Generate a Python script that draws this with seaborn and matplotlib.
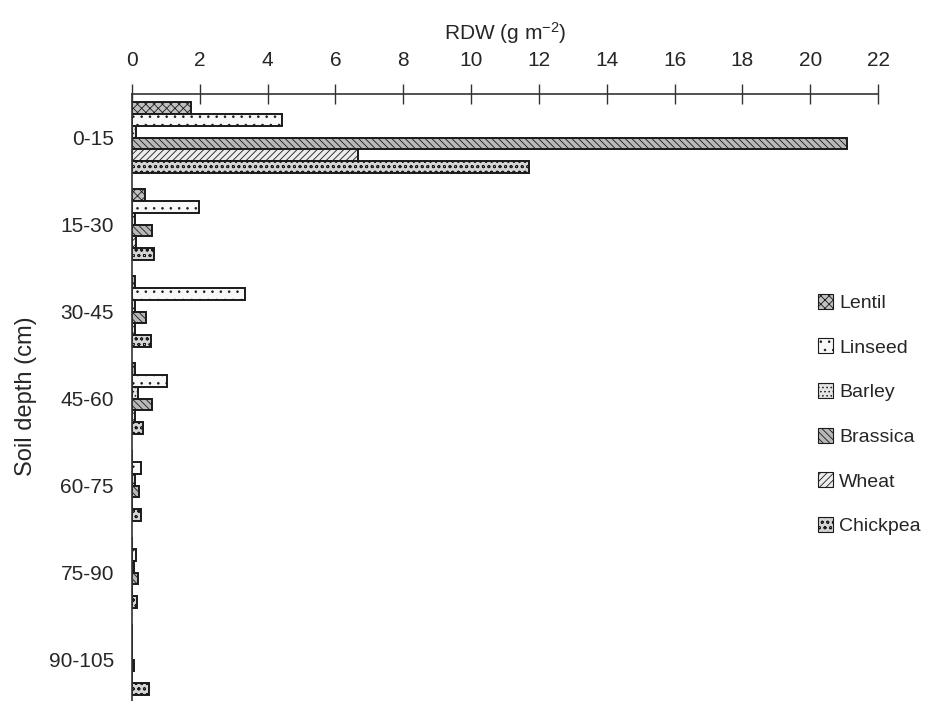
import matplotlib
matplotlib.use("Agg")
import matplotlib.pyplot as plt
import seaborn as sns
import pandas as pd
from matplotlib.patches import Patch

depths = ['0-15', '15-30', '30-45', '45-60', '60-75', '75-90', '90-105']
crops = ['Lentil', 'Linseed', 'Barley', 'Brassica', 'Wheat', 'Chickpea']
lentil = [1.74, 0.39, 0.10, 0.09, 0.0, 0.0, 0.0]
linseed = [4.41, 1.97, 3.32, 1.02, 0.27, 0.12, 0.0]
barley = [0.11, 0.08, 0.10, 0.18, 0.10, 0.05, 0.0]
brassica = [21.09, 0.58, 0.42, 0.58, 0.20, 0.18, 0.07]
wheat = [6.67, 0.13, 0.08, 0.08, 0.0, 0.0, 0.0]
chickpea = [11.72, 0.64, 0.55, 0.31, 0.27, 0.16, 0.49]
x_ticks = [0, 2, 4, 6, 8, 10, 12, 14, 16, 18, 20, 22]

series = [lentil, linseed, barley, brassica, wheat, chickpea]
rows = []
for crop, vals in zip(crops, series):
    for d, v in zip(depths, vals):
        rows.append({'depth': d, 'crop': crop, 'rdw': v})
df = pd.DataFrame(rows)

sns.set_style("white")
plt.rcParams['font.family'] = ['Liberation Sans', 'DejaVu Sans']
plt.rcParams['hatch.linewidth'] = 0.6
plt.rcParams['mathtext.fontset'] = 'custom'
plt.rcParams['mathtext.rm'] = 'Liberation Sans'
plt.rcParams['mathtext.default'] = 'regular'

styles = {
    'Lentil':   dict(fc='#c0c0c0', hatch='xxxx'),
    'Linseed':  dict(fc='#f8f8f8', hatch='..'),
    'Barley':   dict(fc='#e4e4e4', hatch='....'),
    'Brassica': dict(fc='#b8b8b8', hatch='\\\\\\\\\\'),
    'Wheat':    dict(fc='#ececec', hatch='/////'),
    'Chickpea': dict(fc='#d4d4d4', hatch='ooo'),
}

fig = plt.figure(figsize=(9.34, 7.01), dpi=100)
ax = fig.add_axes([132 / 934, (701 - 703) / 701, (878 - 132) / 934, (703 - 94) / 701])

sns.barplot(data=df, y='depth', x='rdw', hue='crop', order=depths, hue_order=crops,
            orient='h', width=0.81, ax=ax, legend=False, errorbar=None)

for crop, cont in zip(crops, ax.containers):
    st = styles[crop]
    for bar in cont:
        bar.set_facecolor(st['fc'])
        bar.set_edgecolor('#1a1a1a')
        bar.set_hatch(st['hatch'])
        bar.set_linewidth(1.4)

ax.set_xlim(0, 22)
ax.set_ylim(len(depths) - 0.5, -0.5)
ax.xaxis.tick_top()
ax.xaxis.set_label_position('top')
ax.set_xticks(x_ticks)
ax.set_xticklabels([str(t) for t in x_ticks], fontsize=15)
ax.tick_params(axis='x', direction='inout', length=15, width=1, pad=10, color='#333333')
ax.set_xlabel('RDW (g m$^{-2}$)', fontsize=15, labelpad=8)

ax.set_yticks(range(len(depths)))
ax.set_yticklabels(depths, fontsize=15)
ax.tick_params(axis='y', which='major', length=0, pad=13)
ax.set_yticks([i + 0.5 for i in range(len(depths) - 1)], minor=True)
ax.tick_params(axis='y', which='minor', direction='out', length=7, width=1, color='#333333')
ax.set_ylabel('Soil depth (cm)', fontsize=17)
ax.yaxis.set_label_coords(-0.127, (703 - 396) / (703 - 94))

for s in ['right', 'bottom']:
    ax.spines[s].set_visible(False)
for s in ['top', 'left']:
    ax.spines[s].set_color('#333333')
    ax.spines[s].set_linewidth(1.2)

handles = [Patch(facecolor=styles[c]['fc'], edgecolor='#1a1a1a', hatch=styles[c]['hatch'],
                 linewidth=0.8, label=c) for c in crops]
fig.legend(handles=handles, loc='upper left', bbox_to_anchor=(810 / 934, 1 - 286 / 701),
           frameon=False, fontsize=14, handlelength=0.8, handleheight=0.8,
           handletextpad=0.3, labelspacing=1.36, borderaxespad=0)

fig.savefig('out.png', dpi=100)
